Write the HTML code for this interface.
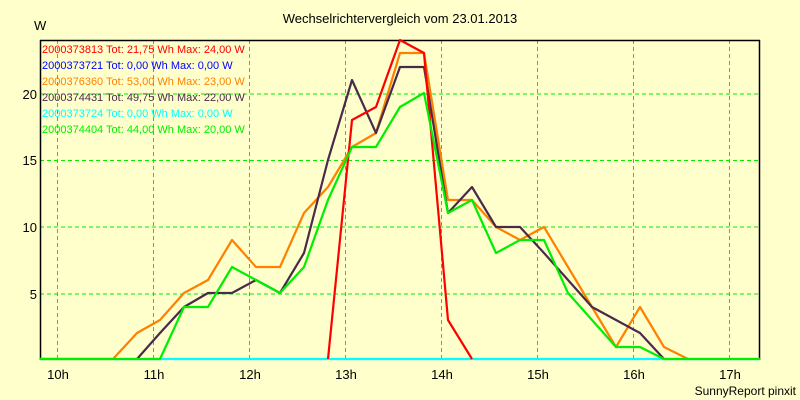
<!DOCTYPE html>
<html><head><meta charset="utf-8"><style>
html,body{margin:0;padding:0;background:#ffffcc;}
svg{display:block;font-family:"Liberation Sans",sans-serif;}
</style></head><body>
<svg width="800" height="400" viewBox="0 0 800 400">
<rect width="800" height="400" fill="#ffffcc"/>
<text x="400" y="23" font-size="13" text-anchor="middle" fill="#000">Wechselrichtervergleich vom 23.01.2013</text>
<text x="34" y="30" font-size="13" fill="#000">W</text>
<g stroke="#00ee00" stroke-width="1" stroke-dasharray="4,3" fill="none" shape-rendering="crispEdges">
<line x1="40" y1="94" x2="760" y2="94"/><line x1="40" y1="160.5" x2="760" y2="160.5"/>
<line x1="40" y1="227" x2="760" y2="227"/><line x1="40" y1="294" x2="760" y2="294"/>
<line x1="57.5" y1="40" x2="57.5" y2="360"/><line x1="153.5" y1="40" x2="153.5" y2="360"/>
<line x1="249.5" y1="40" x2="249.5" y2="360"/><line x1="345.5" y1="40" x2="345.5" y2="360"/>
<line x1="441.5" y1="40" x2="441.5" y2="360"/><line x1="537.5" y1="40" x2="537.5" y2="360"/>
<line x1="633.5" y1="40" x2="633.5" y2="360"/><line x1="729.5" y1="40" x2="729.5" y2="360"/>
</g>
<g stroke="#000" stroke-width="1.5" fill="none">
<line x1="40" y1="40.5" x2="760" y2="40.5"/><line x1="40.5" y1="40" x2="40.5" y2="360"/><line x1="759.5" y1="40" x2="759.5" y2="360"/>
</g>
<g font-size="13" fill="#000" text-anchor="end">
<text x="37" y="99">20</text><text x="37" y="165">15</text><text x="37" y="232">10</text><text x="37" y="299">5</text>
</g>
<g font-size="13" fill="#000" text-anchor="middle">
<text x="58" y="379">10h</text><text x="154" y="379">11h</text><text x="250" y="379">12h</text><text x="346" y="379">13h</text>
<text x="442" y="379">14h</text><text x="538" y="379">15h</text><text x="634" y="379">16h</text><text x="730" y="379">17h</text>
</g>
<text x="796" y="395" font-size="12" text-anchor="end" fill="#000">SunnyReport pinxit</text>
<g fill="none" stroke-width="2.2" stroke-linejoin="round">
<polyline stroke="#00ffff" points="40,359 760,359"/>
<polyline stroke="#ff8000" points="40,359 113,359 137,333 160,320 184,293 208,280 232,240 256,267 280,267 304,213 328,187 352,147 376,133 400,53 424,53 448,200 472,200 496,227 520,240 544,227 568,267 592,307 616,347 640,307 664,347 688,359"/>
<polyline stroke="#4a2a4a" points="137,359 160,333 184,307 208,293 232,293 256,280 280,293 304,253 328,160 352,80 376,133 400,67 424,67 448,213 472,187 496,227 520,227 544,253 568,280 592,307 616,320 640,333 664,359"/>
<polyline stroke="#ff0000" points="328,359 352,120 376,107 400,40 424,53 448,320 472,359"/>
<polyline stroke="#00ee00" points="40,359 160,359 184,307 208,307 232,267 256,280 280,293 304,267 328,200 352,147 376,147 400,107 424,93 448,213 472,200 496,253 520,240 544,240 568,293 592,320 616,347 640,347 664,359 760,359"/>
</g>
<g font-size="11">
<text x="42" y="53" fill="#ff0000">2000373813 Tot: 21,75 Wh Max: 24,00 W</text>
<text x="42" y="69" fill="#0000ff">2000373721 Tot: 0,00 Wh Max: 0,00 W</text>
<text x="42" y="85" fill="#ff8000">2000376360 Tot: 53,00 Wh Max: 23,00 W</text>
<text x="42" y="101" fill="#4a2a4a">2000374431 Tot: 49,75 Wh Max: 22,00 W</text>
<text x="42" y="117" fill="#00ffff">2000373724 Tot: 0,00 Wh Max: 0,00 W</text>
<text x="42" y="133" fill="#00ee00">2000374404 Tot: 44,00 Wh Max: 20,00 W</text>
</g>
</svg>
</body></html>
